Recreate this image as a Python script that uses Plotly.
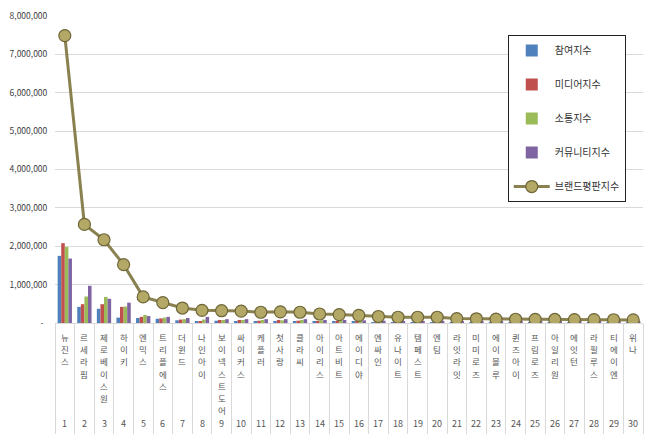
import plotly.graph_objects as go

# rookie idol groups, brand reputation ranking
groups = ["뉴진스", "르세라핌", "제로베이스원", "하이키", "엔믹스", "트리플에스", "더윈드", "나인아이",
          "보이넥스트도어", "싸이커스", "케플러", "첫사랑", "클라씨", "아이리스", "아트비트", "에이디야",
          "엔싸인", "유나이트", "템페스트", "엔팀", "라잇라잇", "미미로즈", "에이블루", "퀸즈아이",
          "프림로즈", "아일리원", "에잇턴", "라필루스", "티에이엔", "위나"]
ranks = [str(i) for i in range(1, 31)]

participation = [1750000, 420000, 370000, 140000, 130000, 110000, 70000, 30000, 60000, 50000,
                 40000, 40000, 40000, 35000, 30000, 30000, 25000, 20000, 20000, 20000,
                 15000, 15000, 15000, 14000, 14000, 13000, 13000, 12000, 12000, 11000]
media = [2080000, 490000, 490000, 420000, 160000, 120000, 90000, 50000, 80000, 80000,
         60000, 80000, 60000, 55000, 50000, 45000, 40000, 35000, 35000, 35000,
         25000, 25000, 22000, 22000, 22000, 21000, 20000, 20000, 19000, 18000]
communication = [1980000, 690000, 680000, 430000, 210000, 140000, 100000, 90000, 80000, 80000,
                 80000, 70000, 80000, 65000, 60000, 55000, 45000, 40000, 40000, 40000,
                 30000, 30000, 28000, 28000, 27000, 26000, 26000, 25000, 24000, 23000]
community = [1680000, 970000, 630000, 530000, 180000, 160000, 130000, 160000, 100000, 100000,
             100000, 100000, 100000, 80000, 80000, 70000, 60000, 55000, 55000, 55000,
             45000, 45000, 35000, 34000, 32000, 32000, 31000, 31000, 30000, 28000]
brand = [7490000, 2570000, 2170000, 1520000, 680000, 530000, 390000, 330000, 320000, 310000,
         280000, 290000, 280000, 235000, 220000, 200000, 170000, 150000, 150000, 150000,
         115000, 110000, 100000, 98000, 95000, 92000, 90000, 88000, 85000, 80000]

y_ticks = [i * 1000000 for i in range(0, 9)]
y_ticks_text = ["-  "] + ["{:,}".format(v) for v in y_ticks[1:]]

FONT = "Noto Sans CJK KR"

fig = go.Figure()
bar_series = [
    ("참여지수", participation, "#4F81BD"),
    ("미디어지수", media, "#C0504D"),
    ("소통지수", communication, "#9BBB59"),
    ("커뮤니티지수", community, "#8064A2"),
]
for name, vals, color in bar_series:
    fig.add_trace(go.Bar(x=groups, y=vals, name=name, legendgroup=name,
                         marker=dict(color=color, line=dict(width=0))))

fig.add_trace(go.Scatter(
    x=groups, y=brand, name="브랜드평판지수", legendgroup="brand",
    mode="lines+markers",
    line=dict(color="#8A8150", width=3),
    marker=dict(size=12, color="#B3A866", line=dict(color="#6F6638", width=1.2)),
))

# vertical labels (one glyph per row) under each category + rank numbers
annotations = []
label_font = dict(size=8.5, color="#555555", family=FONT)
for g, r in zip(groups, ranks):
    for k, ch in enumerate(g):
        annotations.append(dict(x=g, xref="x", y=0, yref="y", yanchor="top",
                                yshift=-6 - k * 12.2, text=ch, showarrow=False,
                                font=label_font))
    annotations.append(dict(x=g, xref="x", y=0, yref="y", yanchor="middle", yshift=-100,
                            text=r, showarrow=False,
                            font=dict(size=9, color="#555555", family=FONT)))

fig.update_layout(
    width=658, height=441,
    margin=dict(l=55, r=15, t=16, b=118, autoexpand=False),
    paper_bgcolor="white", plot_bgcolor="white",
    font=dict(family=FONT, color="#404040"),
    barmode="group", bargap=0.27, bargroupgap=0,
    annotations=annotations,
    legend=dict(x=0.77, y=0.938, xanchor="left", yanchor="top",
                bordercolor="#222222", borderwidth=1, bgcolor="white",
                font=dict(size=10, color="#333333", family=FONT),
                tracegroupgap=15, itemwidth=36),
    xaxis=dict(type="category", range=[-0.5, 29.5], showticklabels=False,
               tickson="boundaries", ticks="outside", ticklen=110,
               tickcolor="#D9D9D9", tickwidth=1,
               showline=True, linecolor="#D9D9D9", showgrid=False),
    yaxis=dict(range=[0, 8000000], tickvals=y_ticks, ticktext=y_ticks_text,
               tickfont=dict(size=8.5, color="#404040"),
               ticks="outside", ticklen=5, tickcolor="rgba(0,0,0,0)",
               gridcolor="#D9D9D9", zeroline=False, showline=False),
)

fig.write_html("out.html", config={"displayModeBar": False},
               post_script="document.body.style.margin='0px';")
